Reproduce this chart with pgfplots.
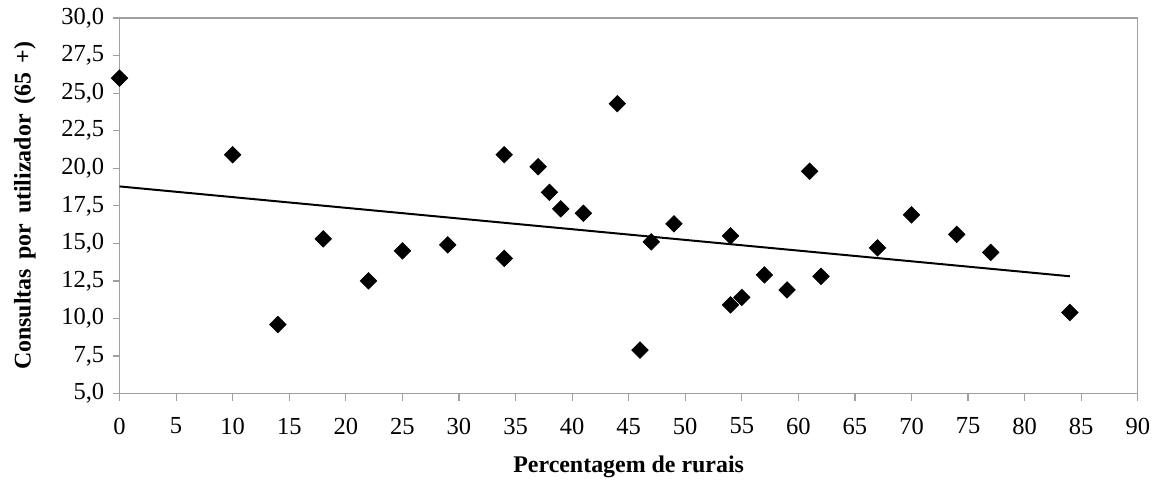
\documentclass[border=0pt]{standalone}
\usepackage{pgfplots}
\pgfplotsset{compat=1.18}
\usepackage{fontspec}
\setmainfont{Liberation Serif}
\usetikzlibrary{calc}

\pgfplotstableread{
x y
0 26.0
10 20.9
14 9.6
18 15.3
22 12.5
25 14.5
29 14.9
34 20.9
34 14.0
37 20.1
38 18.4
39 17.3
41 17.0
44 24.3
46 7.9
47 15.1
49 16.3
54 15.5
54 10.9
55 11.4
57 12.9
59 11.9
61 19.8
62 12.8
67 14.7
70 16.9
74 15.6
77 14.4
84 10.4
}\pontos

% linear trend (least squares) evaluated at the ends of the data range
\pgfplotstableread{
x y
0 18.79
84 12.81
}\tendencia

\definecolor{eixo}{RGB}{160,160,160}
\newcommand{\esp}{\hspace{0.4em}}

\begin{document}
\fontsize{12}{14}\selectfont
\begin{tikzpicture}
\begin{axis}[
  scale only axis,
  width=511pt, height=188.5pt,
  xmin=0, xmax=90, ymin=5, ymax=30,
  xtick={0,5,...,90},
  ytick={5,7.5,...,30},
  axis line style={eixo, line width=0.6pt},
  tick style={eixo, line width=0.6pt},
  tick align=outside,
  major tick length=3.5pt,
  xtick pos=bottom, ytick pos=left,
  /pgf/number format/assume math mode=true,
  yticklabel style={/pgf/number format/.cd, fixed, fixed zerofill, precision=1, use comma},
  xticklabel style={yshift=-4.5pt, /pgf/number format/.cd, fixed, precision=0},
  ticklabel style={font=\fontsize{12.3}{14}\selectfont},
  xlabel={\textbf{Percentagem de rurais}},
  ylabel={\textbf{Consultas\esp por\esp utilizador\esp (65\esp +)}},
  label style={font=\fontsize{12}{14}\selectfont},
  x label style={at={(axis description cs:0.5,-0.194)}, anchor=center},
  y label style={at={(axis description cs:-0.093,0.5)}, anchor=center, rotate=0},
  clip=false,
]
\addplot[only marks, mark=square*, mark size=2.9pt, mark options={rotate=45, fill=black, draw=black}] table[x=x, y=y] {\pontos};
\addplot[black, line width=1pt, no marks] table[x=x, y=y] {\tendencia};
\end{axis}
\useasboundingbox ($(current axis.south west)+(-60pt,-43.5pt)$) rectangle ($(current axis.north east)+(8pt,7.5pt)$);
\end{tikzpicture}
\end{document}
